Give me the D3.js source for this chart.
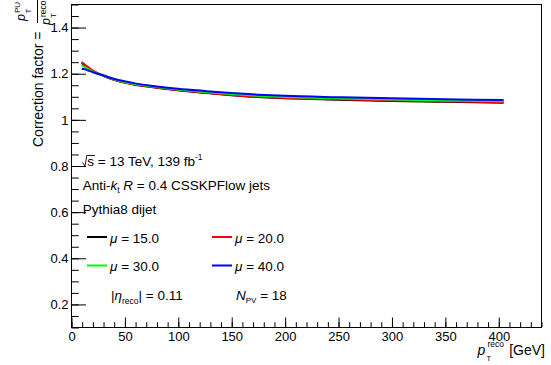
<!DOCTYPE html>
<html><head><meta charset="utf-8">
<script src="https://cdn.jsdelivr.net/npm/d3@7"></script>
<style>
body{margin:0;background:#fff}
svg{display:block}
text{font-family:"Liberation Sans",Arial,Helvetica,sans-serif;fill:#000}
</style></head>
<body><svg id="c" width="551" height="365"></svg>
<script>
// ---- data ----
const ptReco = [10, 15, 20, 30, 40, 50, 60, 75, 100, 125, 150, 175, 200, 250, 300, 350, 405];
const mu15 = [1.244, 1.227, 1.211, 1.189, 1.172, 1.160, 1.150, 1.140, 1.126, 1.115, 1.105, 1.097, 1.092, 1.085, 1.080, 1.076, 1.072];
const mu20 = [1.249, 1.230, 1.213, 1.190, 1.173, 1.161, 1.151, 1.141, 1.127, 1.116, 1.106, 1.098, 1.093, 1.087, 1.082, 1.078, 1.075];
const mu30 = [1.234, 1.221, 1.208, 1.190, 1.174, 1.162, 1.153, 1.143, 1.129, 1.119, 1.110, 1.102, 1.097, 1.091, 1.086, 1.082, 1.079];
const mu40 = [1.219, 1.214, 1.205, 1.191, 1.176, 1.165, 1.156, 1.146, 1.133, 1.123, 1.114, 1.107, 1.102, 1.096, 1.091, 1.087, 1.084];
const muLabels = ["15.0", "20.0", "30.0", "40.0"];
const xTicks = [0, 50, 100, 150, 200, 250, 300, 350, 400];
const xTickLabels = ["0", "50", "100", "150", "200", "250", "300", "350", "400"];
const yTicks = [0.2, 0.4, 0.6, 0.8, 1.0, 1.2, 1.4];
const yTickLabels = ["0.2", "0.4", "0.6", "0.8", "1", "1.2", "1.4"];
const xDomain = [0, 440];
const yDomain = [0.1, 1.5];

// ---- styles ----
const colors = ["#000000", "#ff0000", "#00ff00", "#0000ff"];

const svg = d3.select("#c");
const L = 71, R = 541, T = 4, B = 327;
const x = d3.scaleLinear(xDomain, [L, R]);
const y = d3.scaleLinear(yDomain, [B, T]);

// curves
const series = [mu15, mu20, mu30, mu40];
const line = d3.line().x(d => x(d[0])).y(d => y(d[1])).curve(d3.curveMonotoneX);
svg.append("g").selectAll("path").data(series).join("path")
  .attr("d", s => line(ptReco.map((p, i) => [p, s[i]])))
  .attr("fill", "none").attr("stroke", (s, i) => colors[i]).attr("stroke-width", 2);

// axes
const gx = svg.append("g").attr("transform", `translate(0.5,${B})`);
gx.call(d3.axisBottom(x).tickValues(d3.range(0, 441, 10)).tickSize(-4.8).tickFormat(""));
const gx2 = svg.append("g").attr("transform", `translate(0.5,${B})`);
gx2.call(d3.axisBottom(x).tickValues(xTicks).tickSize(-9.5).tickPadding(5)
  .tickFormat((d, i) => xTickLabels[i]));
const gy = svg.append("g").attr("transform", `translate(${L + 0.5},0.5)`);
gy.call(d3.axisLeft(y).tickValues(d3.range(2, 31).map(i => i * 0.05)).tickSize(-7.3).tickFormat(""));
const gy2 = svg.append("g").attr("transform", `translate(${L + 0.5},0.5)`);
gy2.call(d3.axisLeft(y).tickValues(yTicks).tickSize(-14.5).tickPadding(3)
  .tickFormat((d, i) => yTickLabels[i]));
svg.selectAll(".domain").remove();
svg.selectAll(".tick line").attr("stroke", "#000");
svg.selectAll(".tick text").style("font-size", "13px").style("font-family", '"Liberation Sans",Arial,sans-serif').attr("fill", "#000");

// frame
svg.append("rect").attr("x", L + 0.5).attr("y", T + 0.5).attr("width", R - L).attr("height", B - T)
  .attr("fill", "none").attr("stroke", "#000").attr("stroke-width", 1);

// helper for rich text
function rich(g, x0, y0, parts, size) {
  let cx = x0, prevStart = x0;
  parts.forEach(p => {
    const sx = p.stack ? prevStart : cx;
    const t = g.append("text").attr("x", sx).attr("y", y0 + (p.dy || 0))
      .style("font-size", (p.size || size) + "px")
      .style("font-style", p.it ? "italic" : "normal")
      .attr("xml:space", "preserve")
      .text(p.t);
    const w = t.node().getComputedTextLength();
    prevStart = sx;
    cx = Math.max(cx, sx + w);
  });
  return cx;
}

// y title
const yt = svg.append("g").attr("transform", "translate(43,147) rotate(-90)");
yt.append("text").attr("x", 0).attr("y", 0).style("font-size", "14px").text("Correction factor =");
yt.append("text").attr("x", 126).attr("y", -18).style("font-size", "12.5px").style("font-style", "italic").text("p");
yt.append("text").attr("x", 133.5).attr("y", -12).style("font-size", "8px").text("T");
yt.append("text").attr("x", 134).attr("y", -23).style("font-size", "8px").text("PU");
yt.append("line").attr("x1", 124).attr("x2", 152).attr("y1", -5.5).attr("y2", -5.5).attr("stroke", "#000").attr("stroke-width", 1);
yt.append("text").attr("x", 122).attr("y", 7).style("font-size", "12.5px").style("font-style", "italic").text("p");
yt.append("text").attr("x", 129).attr("y", 12.5).style("font-size", "8px").text("T");
yt.append("text").attr("x", 130).attr("y", 3).style("font-size", "8.5px").text("reco");

// x title
const xt = svg.append("g");
xt.append("text").attr("x", 477.5).attr("y", 355).style("font-size", "14px").style("font-style", "italic").text("p");
xt.append("text").attr("x", 487.5).attr("y", 347).style("font-size", "8.5px").text("reco");
xt.append("text").attr("x", 486.5).attr("y", 360.5).style("font-size", "7.5px").text("T");
xt.append("text").attr("x", 545).attr("y", 355).attr("text-anchor", "end").style("font-size", "14px").text("[GeV]");

// annotation text
const ann = svg.append("g");
ann.append("path").attr("d", "M82.5,162.5 L85,166 L86.8,155.5 L95,155.5").attr("fill", "none").attr("stroke", "#000").attr("stroke-width", 0.9);
rich(ann, 87.3, 166, [
  {t: "s = 13 TeV, 139 fb"},
  {t: "-1", size: 8.5, dy: -6}
], 13.5);
rich(ann, 82.7, 190, [
  {t: "Anti-"}, {t: "k", it: true}, {t: "t", size: 8.5, dy: 3}, {t: " "},
  {t: "R", it: true}, {t: " = 0.4 CSSKPFlow jets"}
], 13.5);
rich(ann, 82.7, 214, [{t: "Pythia8 dijet"}], 13.5);

// legend
const legX = [87, 212], legY = [237, 265.5];
const leg = svg.append("g");
muLabels.forEach((lab, i) => {
  const cx = legX[i % 2], cy = legY[Math.floor(i / 2)];
  leg.append("line").attr("x1", cx).attr("x2", cx + 20).attr("y1", cy).attr("y2", cy)
    .attr("stroke", colors[i]).attr("stroke-width", 2);
  rich(leg, cx + 23, cy + 5.5, [{t: "μ", it: true}, {t: " = " + lab}], 13.5);
});
rich(leg, 111, 300, [
  {t: "|"}, {t: "η", it: true}, {t: "reco", size: 8.5, dy: 3.5}, {t: "|"}, {t: " = 0.11"}
], 13.5);
rich(leg, 236, 300, [
  {t: "N", it: true}, {t: "PV", size: 8, dy: 2.5}, {t: " = 18"}
], 13.5);
</script></body></html>
